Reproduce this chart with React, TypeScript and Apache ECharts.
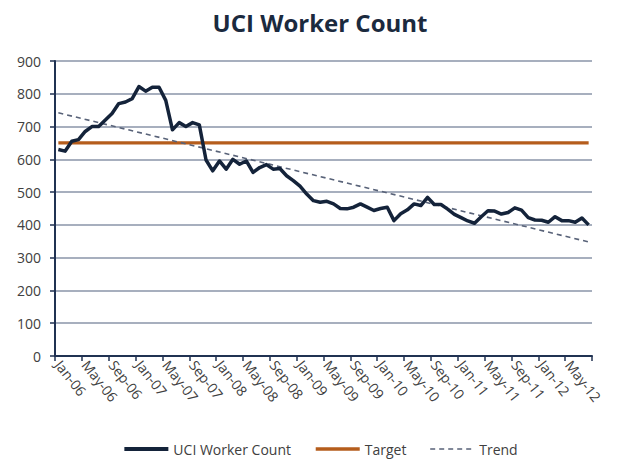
import React, { useEffect, useRef } from "react";
import * as echarts from "echarts";

const monthNames = ["Jan", "Feb", "Mar", "Apr", "May", "Jun", "Jul", "Aug", "Sep", "Oct", "Nov", "Dec"];
const years = ["06", "07", "08", "09", "10", "11", "12"];
const lastYearMonths = 8; // data runs through Aug-12

const categories: string[] = [];
years.forEach((y, yi) => {
  const count = yi === years.length - 1 ? lastYearMonths : 12;
  for (let m = 0; m < count; m++) categories.push(`${monthNames[m]}-${y}`);
});

const workerCount = [
  630, 625, 655, 660, 685, 700, 700, 720, 740, 770, 775, 785,
  822, 808, 820, 820, 780, 690, 712, 700, 712, 705, 598, 565,
  595, 570, 600, 585, 595, 560, 575, 584, 570, 572, 550, 535,
  518, 494, 474, 469, 472, 464, 450, 449, 454, 464, 454, 444,
  450, 454, 413, 434, 446, 464, 459, 484, 462, 462, 448, 432,
  422, 412, 405, 425, 443, 442, 433, 438, 452, 445, 422, 415,
  414, 408, 425, 413, 413, 408, 421, 400,
];

const targetValue = 650;
const trendStart = 742;
const trendEnd = 348;

const yTicks = { min: 0, max: 900, interval: 100 };

export default function App() {
  const ref = useRef<HTMLDivElement>(null);
  useEffect(() => {
    if (!ref.current) return;
    const chart = echarts.init(ref.current, null, { renderer: "svg" });
    const last = categories.length - 1;
    const font = "'Open Sans', 'Liberation Sans', sans-serif";
    chart.setOption({
      animation: false,
      backgroundColor: "#ffffff",
      title: {
        text: "UCI Worker Count",
        left: "center",
        top: 5,
        textStyle: { fontFamily: font, fontSize: 24, fontWeight: "bold", color: "#1b2a3e" },
      },
      legend: {
        top: 437,
        left: "center",
        itemWidth: 44,
        itemHeight: 12,
        itemGap: 23,
        itemStyle: { opacity: 0 },
        textStyle: { fontFamily: font, fontSize: 14, color: "#404040" },
        data: [
          { name: "UCI Worker Count", lineStyle: { width: 4 } },
          { name: "Target", lineStyle: { width: 3.5 } },
          { name: "Trend", lineStyle: { width: 1.6 } },
        ],
      },
      grid: { left: 55, right: 48, top: 61, bottom: 105, containLabel: false },
      xAxis: {
        type: "category",
        data: categories,
        boundaryGap: true,
        axisLine: { show: true, lineStyle: { color: "#203252", width: 2 } },
        axisTick: { show: true, interval: 3, length: 5, lineStyle: { color: "#203252", width: 1.5 } },
        axisLabel: {
          interval: 3,
          rotate: -52,
          margin: 6,
          fontFamily: font,
          fontSize: 14,
          color: "#404040",
        },
        splitLine: { show: false },
      },
      yAxis: {
        type: "value",
        min: yTicks.min,
        max: yTicks.max,
        interval: yTicks.interval,
        axisLine: { show: true, lineStyle: { color: "#203252", width: 2 } },
        axisTick: { show: true, length: 5, lineStyle: { color: "#203252", width: 1.5 } },
        axisLabel: { margin: 14, fontFamily: font, fontSize: 14, color: "#404040" },
        splitLine: { show: true, lineStyle: { color: "#8a95a8", width: 1.5 } },
      },
      series: [
        {
          name: "Trend",
          type: "line",
          data: [[0, trendStart], [last, trendEnd]],
          symbol: "none",
          lineStyle: { color: "#586278", width: 1.6, type: [5, 4] },
          itemStyle: { color: "#586278" },
          z: 3,
        },
        {
          name: "Target",
          type: "line",
          data: [[0, targetValue], [last, targetValue]],
          symbol: "none",
          lineStyle: { color: "#b55d1c", width: 3.2 },
          itemStyle: { color: "#b55d1c" },
          z: 2,
        },
        {
          name: "UCI Worker Count",
          type: "line",
          data: workerCount,
          symbol: "none",
          lineStyle: { color: "#14233a", width: 3.5, join: "round" },
          itemStyle: { color: "#14233a" },
          z: 4,
        },
      ],
    });
    return () => chart.dispose();
  }, []);
  return (
    <div
      ref={ref}
      style={{ position: "absolute", left: 0, top: 0, width: 640, height: 461 }}
    />
  );
}
